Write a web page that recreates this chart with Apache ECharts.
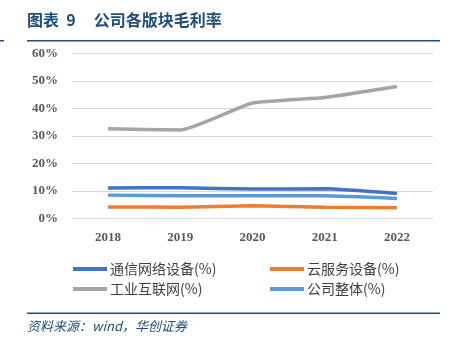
<!DOCTYPE html>
<html><head><meta charset="utf-8">
<script src="https://cdn.jsdelivr.net/npm/echarts@6/dist/echarts.min.js"></script>
<style>html,body{margin:0;padding:0;background:#fff}#c{width:453px;height:350px}</style>
</head><body><div id="c"></div>
<script>
const categories = ['2018','2019','2020','2021','2022'];
const yTicks = ['0%','10%','20%','30%','40%','50%','60%'];
const seriesNames = ['通信网络设备(%)','云服务设备(%)','工业互联网(%)','公司整体(%)'];
const telecom = [11.1, 11.2, 10.7, 10.8, 9.1];
const cloud = [4.2, 4.1, 4.6, 4.1, 3.9];
const industrial = [32.6, 32.2, 42.0, 44.0, 48.0];
const overall = [8.5, 8.3, 8.3, 8.3, 7.3];
const colors = ['#4472C4','#ED7D31','#A5A5A5','#5B9BD5'];
const dataSets = [telecom, cloud, industrial, overall];

const chart = echarts.init(document.getElementById('c'));
const serif = '"Liberation Serif","Times New Roman",serif';
const cn = '"Noto Sans CJK SC",sans-serif';
chart.setOption({
  animation:false,
  grid:{left:72, right:20, top:53.5, bottom:131.5, containLabel:false},
  xAxis:{type:'category', data:categories, boundaryGap:true,
    axisLine:{show:false}, axisTick:{show:false},
    axisLabel:{color:'#595959', fontFamily:serif, fontWeight:'bold', fontSize:13, margin:13}},
  yAxis:{type:'value', min:0, max:60, interval:10,
    axisLabel:{color:'#595959', fontFamily:serif, fontWeight:'bold', fontSize:13, margin:14,
      formatter:(v)=>yTicks[Math.round(v/10)]},
    splitLine:{lineStyle:{color:'#D9D9D9', width:1}}},
  legend:[
    {left:68, top:257, orient:'vertical', itemGap:6, itemWidth:34, itemHeight:4, icon:'rect',
     data:[seriesNames[0], seriesNames[2]],
     textStyle:{fontFamily:cn, fontSize:14, color:'#404040', padding:[0,0,0,-2]}},
    {left:265, top:257, orient:'vertical', itemGap:6, itemWidth:34, itemHeight:4, icon:'rect',
     data:[seriesNames[1], seriesNames[3]],
     textStyle:{fontFamily:cn, fontSize:14, color:'#404040', padding:[0,0,0,-2]}}
  ],
  series: seriesNames.map((n,i)=>({name:n, type:'line', data:dataSets[i], symbol:'none',
    smooth:0.15, lineStyle:{color:colors[i], width:3.5}, itemStyle:{color:colors[i]}})),
  graphic:[
    {type:'text', left:27, top:12, style:{text:'图表  9     公司各版块毛利率', fill:'#1F4E79',
      font:'bold 16px "Noto Sans CJK SC",sans-serif'}},
    {type:'rect', shape:{x:27, y:40, width:413, height:1.5}, style:{fill:'#1F4E79'}},
    {type:'rect', shape:{x:0, y:40, width:4, height:1.5}, style:{fill:'#1F4E79'}},
    {type:'rect', shape:{x:27, y:312.5, width:413, height:1.5}, style:{fill:'#1F4E79'}},
    {type:'text', left:27, top:320, style:{text:'资料来源：wind，华创证券', fill:'#1F4E79',
      font:'italic 13px "Noto Sans CJK SC",sans-serif'}}
  ]
});
</script></body></html>
